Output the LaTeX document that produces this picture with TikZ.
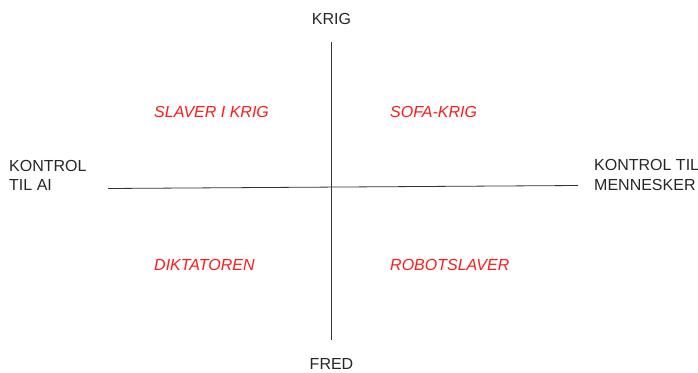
\documentclass[tikz,border=0pt]{standalone}
\usepackage{fontspec}
\setmainfont{Liberation Sans}
\definecolor{quadred}{HTML}{FF1A1A}
\definecolor{axisgray}{HTML}{333333}
\tikzset{
  axislabel/.style={inner sep=0pt, text=black!85, font=\fontsize{16}{19.5}\selectfont, align=left},
  quadlabel/.style={inner sep=0pt, anchor=base west, text=quadred, font=\fontsize{16}{19.5}\selectfont\itshape},
  axis/.style={draw=axisgray, line width=0.8pt}
}
\begin{document}
\begin{tikzpicture}[x=1pt, y=-1pt]
  \useasboundingbox (0,0) rectangle (698,372);

  % axis end points
  \coordinate (top) at (331.5,42);
  \coordinate (bottom) at (331.5,340);
  \coordinate (left) at (108,188.5);
  \coordinate (right) at (578,185.5);

  \draw[axis] (top) -- (bottom);
  \draw[axis] (left) -- (right);

  % axis labels
  \node[axislabel, anchor=base] (krig) at (331.5,24) {KRIG};
  \node[axislabel, anchor=base] (fred) at (331.5,369) {FRED};
  \node[axislabel, anchor=base west] (ai) at (9,190.5) {KONTROL\\TIL AI};
  \node[axislabel, anchor=base west] (menn) at (594,190) {KONTROL TIL\\MENNESKER};

  % quadrant labels
  \node[quadlabel] (slaver) at (154,117.3) {SLAVER I KRIG};
  \node[quadlabel] (sofa) at (390,117.3) {SOFA-KRIG};
  \node[quadlabel] (dikt) at (154,270.7) {DIKTATOREN};
  \node[quadlabel] (robot) at (390,270.7) {ROBOTSLAVER};
\end{tikzpicture}
\end{document}
